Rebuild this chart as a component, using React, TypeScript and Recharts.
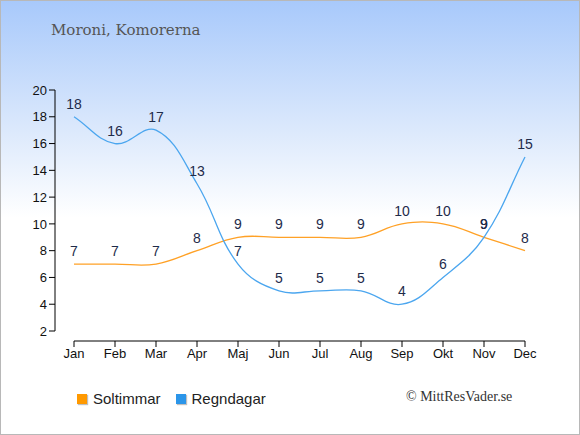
import React from "react";
import { LineChart, Line, XAxis, YAxis, LabelList } from "recharts";

const months = ["Jan", "Feb", "Mar", "Apr", "Maj", "Jun", "Jul", "Aug", "Sep", "Okt", "Nov", "Dec"];
const soltimmar = [7, 7, 7, 8, 9, 9, 9, 9, 10, 10, 9, 8];
const regndagar = [18, 16, 17, 13, 7, 5, 5, 5, 4, 6, 9, 15];
const yTicks = [2, 4, 6, 8, 10, 12, 14, 16, 18, 20];

const data = months.map((m, i) => ({ month: m, sol: soltimmar[i], regn: regndagar[i] }));

// Cardinal-style bezier spline (tension 0.4), as a d3-compatible curve factory
function tensionSpline(context: any) {
  let pts: [number, number][] = [];
  const t = 0.4;
  return {
    areaStart() {},
    areaEnd() {},
    lineStart() {
      pts = [];
    },
    point(x: number, y: number) {
      pts.push([+x, +y]);
    },
    lineEnd() {
      const n = pts.length;
      if (!n) return;
      const ctrl = pts.map((cur, i) => {
        const prev = i > 0 ? pts[i - 1] : cur;
        const next = i < n - 1 ? pts[i + 1] : cur;
        const d01 = Math.hypot(cur[0] - prev[0], cur[1] - prev[1]);
        const d12 = Math.hypot(next[0] - cur[0], next[1] - cur[1]);
        let s01 = d01 / (d01 + d12);
        let s12 = d12 / (d01 + d12);
        if (isNaN(s01)) s01 = 0;
        if (isNaN(s12)) s12 = 0;
        const fa = t * s01;
        const fb = t * s12;
        return {
          px: cur[0] - fa * (next[0] - prev[0]),
          py: cur[1] - fa * (next[1] - prev[1]),
          nx: cur[0] + fb * (next[0] - prev[0]),
          ny: cur[1] + fb * (next[1] - prev[1]),
        };
      });
      context.moveTo(pts[0][0], pts[0][1]);
      for (let i = 1; i < n; i++) {
        context.bezierCurveTo(ctrl[i - 1].nx, ctrl[i - 1].ny, ctrl[i].px, ctrl[i].py, pts[i][0], pts[i][1]);
      }
    },
  };
}

const SOL_LINE = "#ffa126";
const SOL_KEY = "#ff9900";
const REGN_LINE = "#4ba6ef";
const REGN_KEY = "#2b95e9";
const LABEL = "#1e2b4a";
const FONT = "'Liberation Sans', Arial, sans-serif";

const legendItems = [
  { name: "Soltimmar", color: SOL_KEY },
  { name: "Regndagar", color: REGN_KEY },
];

function LegendContent() {
  return (
    <div style={{ display: "flex", alignItems: "center", fontFamily: FONT, fontSize: 15, color: "#222" }}>
      {legendItems.map((it, i) => (
        <div key={it.name} style={{ display: "flex", alignItems: "center", marginRight: i === 0 ? 15 : 0 }}>
          <span
            style={{
              display: "inline-block",
              width: 10,
              height: 10,
              background: it.color,
              boxShadow: "1px 1px 1px rgba(0,0,0,0.25)",
              marginRight: 6,
            }}
          />
          <span>{it.name}</span>
        </div>
      ))}
    </div>
  );
}

export default function App() {
  return (
    <div
      style={{
        position: "absolute",
        left: 0,
        top: 0,
        width: 580,
        height: 435,
        boxSizing: "border-box",
        border: "1px solid #b8b8b8",
        background: "linear-gradient(to bottom, #a8c9fb 0%, #dce9fc 30%, #ffffff 50%, #ffffff 100%)",
        overflow: "hidden",
      }}
    >
      <div
        style={{
          position: "absolute",
          left: 50,
          top: 20,
          fontFamily: "'DejaVu Serif', serif",
          fontSize: 15,
          color: "#555",
        }}
      >
        Moroni, Komorerna
      </div>
      <div
        style={{
          position: "absolute",
          left: 405,
          top: 388,
          fontFamily: "'Liberation Serif', 'DejaVu Serif', serif",
          fontSize: 14,
          color: "#333",
        }}
      >
        © MittResVader.se
      </div>
      <div style={{ position: "absolute", left: 76, top: 389 }}>
        <LegendContent />
      </div>
      <div style={{ position: "absolute", left: -1, top: -1 }}>
        <LineChart width={580} height={435} data={data} margin={{ top: 90, right: 55, bottom: 64, left: 15 }}>
          <XAxis
            dataKey="month"
            height={30}
            padding={{ left: 19, right: 0 }}
            tickSize={6}
            axisLine={{ stroke: "#000", strokeDasharray: "0 19 451 1000" }}
            tickLine={{ stroke: "#000" }}
            tick={{ fill: "#111", fontSize: 13, fontFamily: FONT }}
            interval={0}
          />
          <YAxis
            width={40}
            domain={[2, 20]}
            ticks={yTicks}
            padding={{ top: 0, bottom: 10 }}
            tickSize={6}
            axisLine={{ stroke: "#000", strokeDasharray: "241 1000" }}
            tickLine={{ stroke: "#000" }}
            tick={{ fill: "#111", fontSize: 13, fontFamily: FONT }}
            interval={0}
          />
          <Line
            dataKey="sol"
            name="Soltimmar"
            type={tensionSpline as any}
            stroke={SOL_LINE}
            strokeWidth={1.3}
            dot={false}
            activeDot={false}
            isAnimationActive={false}
          >
            <LabelList dataKey="sol" position="top" offset={8} fill={LABEL} fontSize={14} fontFamily={FONT} />
          </Line>
          <Line
            dataKey="regn"
            name="Regndagar"
            type={tensionSpline as any}
            stroke={REGN_LINE}
            strokeWidth={1.3}
            dot={false}
            activeDot={false}
            isAnimationActive={false}
          >
            <LabelList dataKey="regn" position="top" offset={8} fill={LABEL} fontSize={14} fontFamily={FONT} />
          </Line>
        </LineChart>
      </div>
    </div>
  );
}
